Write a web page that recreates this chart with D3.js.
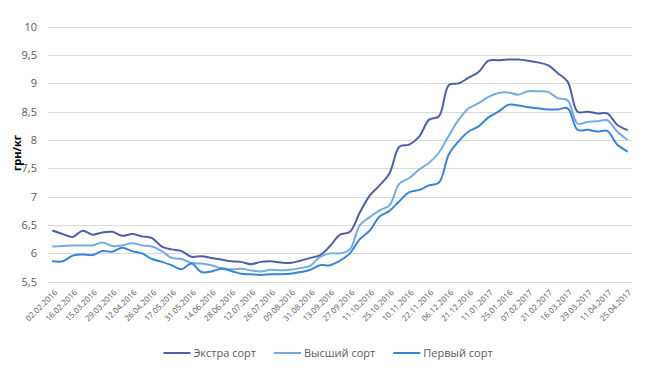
<!DOCTYPE html>
<html>
<head>
<meta charset="utf-8">
<script src="https://cdn.jsdelivr.net/npm/d3@7"></script>
<style>
  body { margin: 0; background: #fff; }
  svg { display: block; font-family: "Open Sans", "Noto Sans", sans-serif; }
</style>
</head>
<body>
<svg id="chart" width="650" height="377"></svg>
<script>
// dates (labels shown on every second one, as in the original)
const dates = [
  "02.02.2016", "09.02.2016", "16.02.2016", "01.03.2016", "15.03.2016", "22.03.2016",
  "29.03.2016", "05.04.2016", "12.04.2016", "19.04.2016", "26.04.2016", "10.05.2016",
  "17.05.2016", "24.05.2016", "31.05.2016", "07.06.2016", "14.06.2016", "21.06.2016",
  "28.06.2016", "05.07.2016", "12.07.2016", "19.07.2016", "26.07.2016", "02.08.2016",
  "09.08.2016", "16.08.2016", "31.08.2016", "06.09.2016", "13.09.2016", "20.09.2016",
  "27.09.2016", "04.10.2016", "11.10.2016", "18.10.2016", "25.10.2016", "01.11.2016",
  "10.11.2016", "15.11.2016", "22.11.2016", "29.11.2016", "06.12.2016", "13.12.2016",
  "21.12.2016", "28.12.2016", "11.01.2017", "17.01.2017", "25.01.2016", "31.01.2017",
  "07.02.2017", "14.02.2017", "21.02.2017", "28.02.2017", "16.03.2017", "22.03.2017",
  "29.03.2017", "04.04.2017", "11.04.2017", "18.04.2017", "25.04.2017"
];

const extra = [
  6.40, 6.34, 6.29, 6.40, 6.33, 6.37, 6.38, 6.31, 6.34, 6.30,
  6.27, 6.12, 6.07, 6.04, 5.94, 5.95, 5.92, 5.89, 5.86, 5.85,
  5.81, 5.85, 5.86, 5.84, 5.83, 5.87, 5.92, 5.97, 6.13, 6.33,
  6.38, 6.72, 7.02, 7.20, 7.41, 7.88, 7.92, 8.06, 8.36, 8.42,
  8.97, 9.00, 9.10, 9.20, 9.40, 9.41, 9.42, 9.42, 9.40, 9.37,
  9.32, 9.18, 9.03, 8.50, 8.50, 8.47, 8.47, 8.27, 8.18
];

const vysshiy = [
  6.12, 6.13, 6.14, 6.14, 6.14, 6.19, 6.13, 6.14, 6.18, 6.14,
  6.12, 6.04, 5.92, 5.90, 5.83, 5.82, 5.79, 5.74, 5.72, 5.73,
  5.70, 5.68, 5.71, 5.70, 5.71, 5.74, 5.78, 5.94, 6.00, 6.00,
  6.07, 6.50, 6.64, 6.76, 6.85, 7.23, 7.33, 7.48, 7.60, 7.78,
  8.08, 8.36, 8.56, 8.65, 8.76, 8.83, 8.84, 8.80, 8.86, 8.86,
  8.85, 8.74, 8.70, 8.29, 8.32, 8.33, 8.35, 8.15, 8.01
];

const perviy = [
  5.86, 5.86, 5.96, 5.98, 5.97, 6.04, 6.03, 6.10, 6.04, 6.00,
  5.90, 5.85, 5.79, 5.72, 5.82, 5.67, 5.68, 5.73, 5.69, 5.64,
  5.63, 5.62, 5.63, 5.63, 5.64, 5.67, 5.71, 5.79, 5.79, 5.87,
  6.00, 6.25, 6.40, 6.65, 6.75, 6.92, 7.08, 7.12, 7.20, 7.25,
  7.75, 7.98, 8.15, 8.24, 8.40, 8.50, 8.62, 8.61, 8.58, 8.56,
  8.54, 8.54, 8.56, 8.18, 8.18, 8.15, 8.16, 7.92, 7.80
];

const yTicks = [5.5, 6, 6.5, 7, 7.5, 8, 8.5, 9, 9.5, 10];

const series = [
  { name: "Экстра сорт", values: extra, color: "#4f5ea9" },
  { name: "Высший сорт", values: vysshiy, color: "#74ace0" },
  { name: "Первый сорт", values: perviy, color: "#3a84d4" }
];

const svg = d3.select("#chart");
const margin = { left: 48, right: 18, top: 26, bottom: 96 };
const width = 650, height = 377;

const x = d3.scalePoint()
  .domain(dates)
  .range([margin.left, width - margin.right])
  .padding(0.5);

const y = d3.scaleLinear()
  .domain([5.5, 10])
  .range([height - margin.bottom + 0.7, margin.top + 0.7]);

const fmt = d => String(d).replace(".", ",");

// grid lines
svg.append("g")
  .selectAll("line")
  .data(yTicks)
  .enter()
  .append("line")
  .attr("x1", margin.left)
  .attr("x2", width - margin.right)
  .attr("y1", d => Math.round(y(d)) + 0.5)
  .attr("y2", d => Math.round(y(d)) + 0.5)
  .attr("stroke", "#d9d9d9")
  .attr("stroke-width", 1);

// y labels
svg.append("g")
  .selectAll("text")
  .data(yTicks)
  .enter()
  .append("text")
  .attr("x", 37)
  .attr("y", d => y(d))
  .attr("dy", "0.35em")
  .attr("text-anchor", "end")
  .style("font-size", "11px")
  .style("fill", "#595959")
  .text(fmt);

// y title
svg.append("text")
  .attr("transform", `translate(21, ${153}) rotate(-90)`)
  .attr("text-anchor", "middle")
  .style("font-size", "11px")
  .style("font-weight", "bold")
  .style("fill", "#000")
  .text("грн/кг");

// x labels
svg.append("g")
  .selectAll("text")
  .data(dates.filter((d, i) => i % 2 === 0))
  .enter()
  .append("text")
  .attr("transform", d => `translate(${x(d) + 3}, ${291}) rotate(-45)`)
  .attr("text-anchor", "end")
  .attr("dy", "0.35em")
  .style("font-size", "8px")
  .style("fill", "#595959")
  .text(d => d);

// lines
const line = d3.line()
  .x((v, i) => x(dates[i]))
  .y(v => y(v))
  .curve(d3.curveCatmullRom.alpha(0.5));

svg.append("g")
  .selectAll("path")
  .data(series)
  .enter()
  .append("path")
  .attr("d", d => line(d.values))
  .attr("fill", "none")
  .attr("stroke", d => d.color)
  .attr("stroke-width", 2)
  .attr("stroke-linejoin", "round")
  .attr("stroke-linecap", "round");

// legend
const legend = svg.append("g");
const items = legend.selectAll("g")
  .data(series)
  .enter()
  .append("g");

items.append("line")
  .attr("x1", 0).attr("x2", 27)
  .attr("y1", 0).attr("y2", 0)
  .attr("stroke", d => d.color)
  .attr("stroke-width", 2);

items.append("text")
  .attr("x", 30)
  .attr("dy", "0.35em")
  .style("font-size", "11px")
  .style("fill", "#595959")
  .text(d => d.name);

let offset = 0;
const positions = [];
items.each(function () {
  const w = 30 + this.querySelector("text").getComputedTextLength();
  positions.push(offset);
  offset += w + 18;
});
const total = offset - 18;
const startX = 325 - total / 2 + 3;
items.attr("transform", (d, i) => `translate(${startX + positions[i]}, 353)`);
</script>
</body>
</html>
